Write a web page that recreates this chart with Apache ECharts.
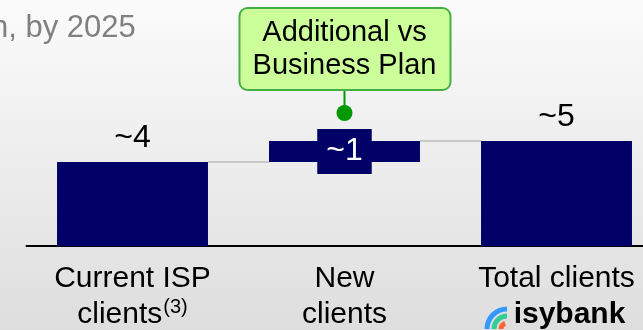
<!DOCTYPE html>
<html>
<head>
<meta charset="utf-8">
<script src="https://cdn.jsdelivr.net/npm/echarts@6/dist/echarts.min.js"></script>
<style>
  html, body { margin: 0; padding: 0; }
  #chart-container { width: 643px; height: 330px; }
</style>
</head>
<body>
<div id="chart-container"></div>
<script>
// waterfall: current clients + new clients = total clients (millions, approx)
var categories = ['Current ISP\nclients', 'New\nclients', 'Total clients'];
var footnotes = ['(3)', '', ''];
var baseValues = [0, 4, 0];      // invisible part under the floating bar
var barValues = [4, 1, 5];
var valueLabels = ['~4', '~1', '~5'];
var connectorLevels = [4, 5];    // level of the grey step line after each bar
var calloutText = 'Additional vs\nBusiness Plan';
var titleText = 'n, by 2025';

var FONT = "'Liberation Sans', Arial, sans-serif";
var NAVY = '#000066';
var BAR_RATIO = 0.712;

var myChart = echarts.init(document.getElementById('chart-container'));

var option = {
  backgroundColor: {
    type: 'linear', x: 0, y: 0, x2: 0, y2: 1,
    colorStops: [{ offset: 0, color: '#fbfbfb' }, { offset: 1, color: '#dedede' }]
  },
  animation: false,
  grid: { left: 26.5, width: 636, top: 36, bottom: 84, containLabel: false, outerBoundsMode: 'none' },
  xAxis: {
    type: 'category',
    data: categories,
    axisLine: { lineStyle: { color: '#000', width: 2 } },
    axisTick: { show: false },
    axisLabel: {
      interval: 0,
      margin: 15,
      color: '#000',
      fontFamily: FONT,
      fontSize: 30,
      lineHeight: 36,
      formatter: function (value, idx) {
        if (footnotes[idx]) return value + '{sup|' + footnotes[idx] + '}';
        if (idx === 2) return value + '\n{logo|isybank}';
        return value;
      },
      rich: {
        sup: { fontFamily: FONT, fontSize: 20, color: '#000', verticalAlign: 'top', lineHeight: 36, padding: [0, 0, 2, 1] },
        logo: { fontFamily: FONT, fontSize: 30, fontWeight: 'bold', color: '#000', padding: [0, 0, 0, 26], lineHeight: 36 }
      }
    }
  },
  yAxis: {
    type: 'value',
    min: 0,
    max: 10,
    show: false
  },
  series: [
    {
      name: 'base',
      type: 'bar',
      stack: 'total',
      barWidth: (BAR_RATIO * 100) + '%',
      itemStyle: { color: 'transparent' },
      data: baseValues
    },
    {
      name: 'clients',
      type: 'bar',
      stack: 'total',
      barWidth: (BAR_RATIO * 100) + '%',
      itemStyle: { color: NAVY },
      z: 3,
      data: barValues.map(function (v, i) {
        var lbl = i === 1 ? {
          show: true, position: 'inside', formatter: valueLabels[i],
          color: '#fff', fontFamily: FONT, fontSize: 32, lineHeight: 37,
          backgroundColor: NAVY, padding: [4, 9]
        } : {
          show: true, position: 'top', distance: 8, formatter: valueLabels[i],
          color: '#000', fontFamily: FONT, fontSize: 32
        };
        return { value: v, label: lbl };
      })
    },
    {
      name: 'steps',
      type: 'custom',
      z: 1,
      encode: { x: 0, y: 1 },
      data: connectorLevels.map(function (v, i) { return [i, v]; }),
      renderItem: function (params, api) {
        var i = api.value(0), lvl = api.value(1);
        var p1 = api.coord([i, lvl]);
        var p2 = api.coord([i + 1, lvl]);
        var half = api.size([1, 0])[0] * BAR_RATIO / 2;
        return {
          type: 'line',
          shape: { x1: p1[0] + half, y1: p1[1], x2: p2[0] - half, y2: p2[1] },
          style: { stroke: '#c8c8c8', lineWidth: 2 }
        };
      }
    }
  ]
};

myChart.setOption(option);

// callout + logo icon, placed from the axis scale
var top2 = myChart.convertToPixel({ gridIndex: 0 }, [1, baseValues[1] + barValues[1]]);
var base3 = myChart.convertToPixel({ gridIndex: 0 }, [2, 0]);
var ax = top2[0], ay = top2[1];
var ix = base3[0] - 49.5, iy = base3[1] + 83;

myChart.setOption({
  graphic: [
    { type: 'text', x: -9, y: 13, style: { text: titleText, font: '31px ' + FONT, fill: '#808080' } },
    { type: 'line', shape: { x1: ax, y1: ay - 28, x2: ax, y2: ay - 51 }, style: { stroke: '#009900', lineWidth: 2 } },
    { type: 'circle', shape: { cx: ax, cy: ay - 28, r: 8 }, style: { fill: '#009900' } },
    { type: 'rect', shape: { x: ax - 105, y: ay - 133, width: 211, height: 82, r: 8 },
      style: { fill: '#ccff99', stroke: '#44b044', lineWidth: 2 } },
    { type: 'text', x: ax, y: ay - 92,
      style: { text: calloutText, font: '29px ' + FONT, fill: '#000', align: 'center', verticalAlign: 'middle', lineHeight: 33 } },
    { type: 'arc', shape: { cx: ix, cy: iy, r: 20, startAngle: Math.PI, endAngle: Math.PI * 1.5 },
      style: { stroke: '#3399ff', lineWidth: 5, fill: null } },
    { type: 'arc', shape: { cx: ix, cy: iy, r: 13, startAngle: Math.PI, endAngle: Math.PI * 1.5 },
      style: { stroke: '#33cc99', lineWidth: 5, fill: null } },
    { type: 'arc', shape: { cx: ix, cy: iy, r: 6, startAngle: Math.PI, endAngle: Math.PI * 1.4 },
      style: { stroke: '#ff6633', lineWidth: 5, fill: null } }
  ]
});
</script>
</body>
</html>
